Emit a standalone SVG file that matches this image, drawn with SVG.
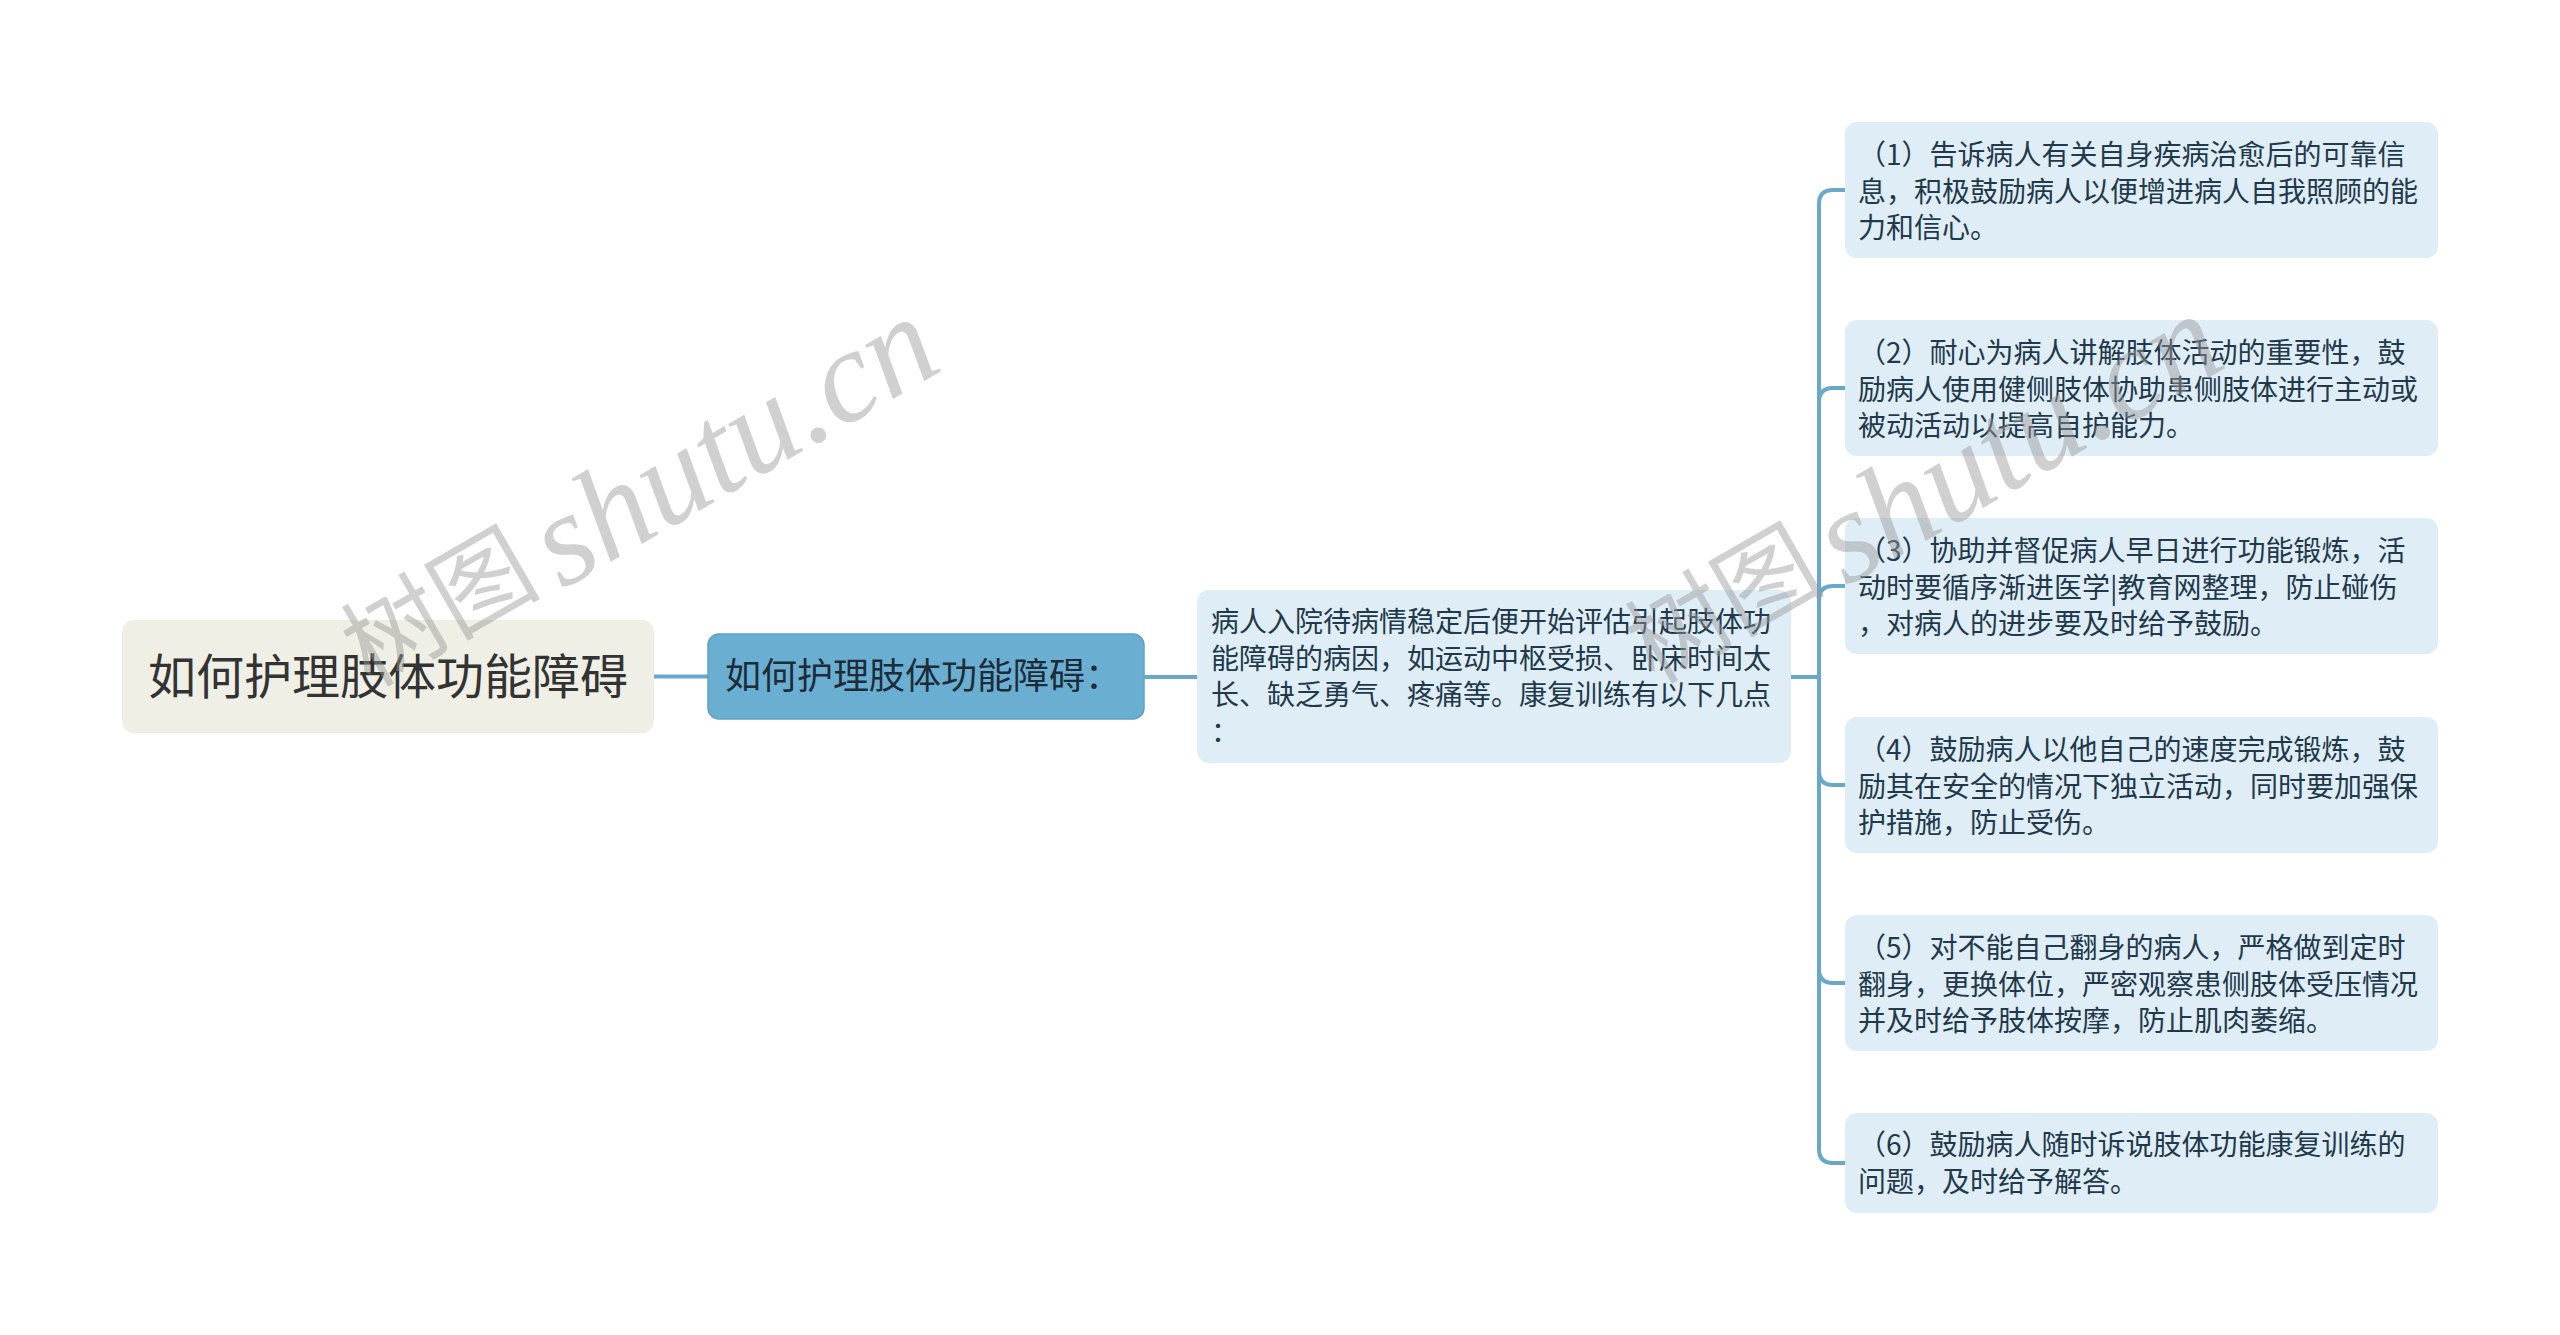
<svg xmlns="http://www.w3.org/2000/svg" width="2560" height="1335" viewBox="0 0 2560 1335">
<style>
.cn{font-family:"Noto Sans CJK SC","Noto Sans",sans-serif;}
.leaf rect{fill:#dfedf6;}
.leaf text{font-size:28px;fill:#22394b;}
.conn{fill:none;stroke:#6aa8c9;stroke-width:4;stroke-linecap:round;}
.wm{fill:#999;fill-opacity:0.46;}
.wmc{font-family:"Noto Sans CJK SC",sans-serif;font-size:100px;}
.wml{font-family:"Liberation Serif",serif;font-style:italic;font-size:132px;}
</style>
<rect x="0" y="0" width="2560" height="1335" fill="#ffffff"/>
<g id="connectors">
<path class="conn" d="M654,676.5 H708"/>
<path class="conn" d="M1144,677 H1197"/>
<path class="conn" d="M1791,677 H1819 V204 Q1819,190 1833,190 H1845"/>
<path class="conn" d="M1791,677 H1819 V402 Q1819,388 1833,388 H1845"/>
<path class="conn" d="M1791,677 H1819 V600 Q1819,586 1833,586 H1845"/>
<path class="conn" d="M1791,677 H1819 V771 Q1819,785 1833,785 H1845"/>
<path class="conn" d="M1791,677 H1819 V969 Q1819,983 1833,983 H1845"/>
<path class="conn" d="M1791,677 H1819 V1149 Q1819,1163 1833,1163 H1845"/>
</g>
<g id="root">
<rect x="122" y="620" width="532" height="113" rx="12" fill="#efefe6"/>
<text class="cn" x="388" y="694" font-size="48" fill="#333333" text-anchor="middle">如何护理肢体功能障碍</text>
</g>
<g id="sub">
<rect x="708" y="634" width="436" height="85" rx="11" fill="#6aafd2" stroke="#5fa2c4" stroke-width="1.5"/>
<text class="cn" x="725" y="689" font-size="36" fill="#1d2c38">如何护理肢体功能障碍：</text>
</g>
<g id="intro" class="leaf">
<rect x="1197" y="590" width="594" height="173" rx="12"/>
<text class="cn"><tspan x="1211" y="632">病人入院待病情稳定后便开始评估引起肢体功</tspan><tspan x="1211" y="669">能障碍的病因，如运动中枢受损、卧床时间太</tspan><tspan x="1211" y="705">长、缺乏勇气、疼痛等。康复训练有以下几点</tspan><tspan x="1211" y="742">：</tspan></text>
</g>
<g id="item1" class="leaf">
<rect x="1845" y="122" width="593" height="136" rx="12"/>
<text class="cn"><tspan x="1858" y="165">（1）告诉病人有关自身疾病治愈后的可靠信</tspan><tspan x="1858" y="202">息，积极鼓励病人以便增进病人自我照顾的能</tspan><tspan x="1858" y="238">力和信心。</tspan></text>
</g>
<g id="item2" class="leaf">
<rect x="1845" y="320" width="593" height="136" rx="12"/>
<text class="cn"><tspan x="1858" y="363">（2）耐心为病人讲解肢体活动的重要性，鼓</tspan><tspan x="1858" y="400">励病人使用健侧肢体协助患侧肢体进行主动或</tspan><tspan x="1858" y="436">被动活动以提高自护能力。</tspan></text>
</g>
<g id="item3" class="leaf">
<rect x="1845" y="518" width="593" height="136" rx="12"/>
<text class="cn"><tspan x="1858" y="561">（3）协助并督促病人早日进行功能锻炼，活</tspan><tspan x="1858" y="598">动时要循序渐进医学|教育网整理，防止碰伤</tspan><tspan x="1858" y="634">，对病人的进步要及时给予鼓励。</tspan></text>
</g>
<g id="item4" class="leaf">
<rect x="1845" y="717" width="593" height="136" rx="12"/>
<text class="cn"><tspan x="1858" y="760">（4）鼓励病人以他自己的速度完成锻炼，鼓</tspan><tspan x="1858" y="797">励其在安全的情况下独立活动，同时要加强保</tspan><tspan x="1858" y="833">护措施，防止受伤。</tspan></text>
</g>
<g id="item5" class="leaf">
<rect x="1845" y="915" width="593" height="136" rx="12"/>
<text class="cn"><tspan x="1858" y="958">（5）对不能自己翻身的病人，严格做到定时</tspan><tspan x="1858" y="995">翻身，更换体位，严密观察患侧肢体受压情况</tspan><tspan x="1858" y="1031">并及时给予肢体按摩，防止肌肉萎缩。</tspan></text>
</g>
<g id="item6" class="leaf">
<rect x="1845" y="1113" width="593" height="100" rx="12"/>
<text class="cn"><tspan x="1858" y="1155">（6）鼓励病人随时诉说肢体功能康复训练的</tspan><tspan x="1858" y="1192">问题，及时给予解答。</tspan></text>
</g>
<g id="watermarks" class="wm">
<text class="wmc" transform="translate(370,688) rotate(-30)">树图</text>
<text class="wml" transform="translate(562,590) rotate(-30)">shutu.cn</text>
<text class="wmc" transform="translate(1654,685) rotate(-30)">树图</text>
<text class="wml" transform="translate(1846,587) rotate(-30)">shutu.cn</text>
</g>
</svg>
